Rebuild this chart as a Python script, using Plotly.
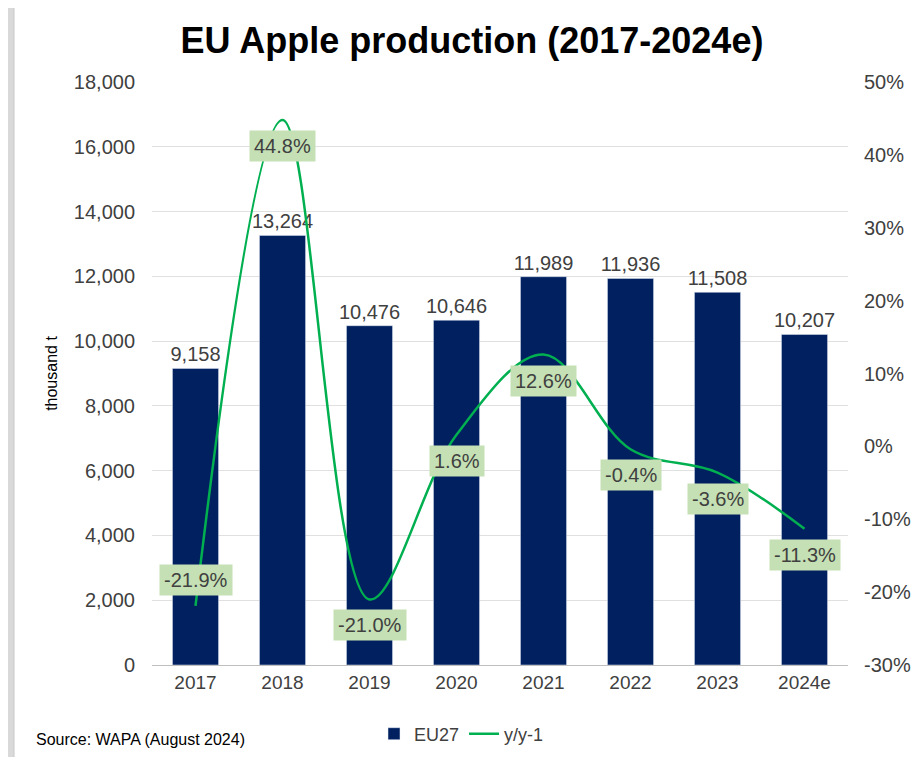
import plotly.graph_objects as go

# Datos
years = ["2017", "2018", "2019", "2020", "2021", "2022", "2023", "2024e"]
eu27 = [9158, 13264, 10476, 10646, 11989, 11936, 11508, 10207]
yoy = [-21.9, 44.8, -21.0, 1.6, 12.6, -0.4, -3.6, -11.3]
left_ticks = [0, 2000, 4000, 6000, 8000, 10000, 12000, 14000, 16000, 18000]
right_ticks = [-30, -20, -10, 0, 10, 20, 30, 40, 50]

NAVY = "#002060"
GREEN = "#00B050"
LABEL_BG = "#C5E0B4"
TXT = "#404040"
FONT = "Liberation Sans, Arial, sans-serif"
NARROW = "Liberation Sans Narrow, Arial Narrow, Liberation Sans, Arial, sans-serif"

# la página añade 8 px de margen
OFF = 8
W, H = 924 - OFF, 757 - OFF
L, R, T, B = 144, 76, 74, 92

# área de trazado en píxeles de pantalla
PL, PR, PT, PB = 152, 848, 82, 665


def px_x(p):
    return (p - PL) / (PR - PL)


def px_y(p):
    return (PB - p) / (PB - PT)


fig = go.Figure()

fig.add_trace(go.Bar(
    x=years, y=eu27, name="EU27",
    marker_color=NAVY,
    text=[f"{v:,}" for v in eu27], textposition="outside",
    textfont=dict(size=20, color=TXT, family=FONT),
    constraintext="none", cliponaxis=False,
))

fig.add_trace(go.Scatter(
    x=years, y=yoy, name="y/y-1", yaxis="y2",
    mode="lines", line=dict(color=GREEN, width=2.5, shape="spline", smoothing=1.0),
))

# etiquetas del porcentaje
for i, (yr, v) in enumerate(zip(years, yoy)):
    fig.add_annotation(
        x=i, y=v, xref="x", yref="y2", text=f"{v:.1f}%", showarrow=False,
        yshift=-26 if i > 0 else 26,
        bgcolor=LABEL_BG, borderpad=4,
        font=dict(size=20, color=TXT, family=FONT),
    )

# fondo gris de la captura
fig.add_shape(type="rect", xref="paper", yref="paper", layer="below",
              x0=px_x(14), x1=px_x(940), y0=px_y(770), y1=px_y(6),
              fillcolor="white", line=dict(color="#c8c8c8", width=1))

fig.add_annotation(
    text="Source: WAPA (August 2024)", xref="paper", yref="paper",
    x=px_x(34), y=px_y(739), xanchor="left", yanchor="middle", showarrow=False,
    font=dict(size=16, color="#000000", family=NARROW),
)

fig.update_layout(
    width=W, height=H,
    margin=dict(l=L, r=R, t=T, b=B, autoexpand=False),
    paper_bgcolor="#d9d9d9", plot_bgcolor="white",
    title=dict(text="<b>EU Apple production (2017-2024e)</b>",
               x=(472 - OFF) / W, xanchor="center", y=1 - (40 - OFF) / H, yanchor="middle",
               font=dict(size=36, color="#000000", family=NARROW)),
    bargap=0.47,
    xaxis=dict(
        type="category", categoryorder="array", categoryarray=years,
        range=[-0.5, len(years) - 0.5],
        showgrid=False, showline=True, linecolor="#bfbfbf",
        linewidth=1, ticks="", tickfont=dict(size=19, color=TXT, family=NARROW),
    ),
    yaxis=dict(
        range=[0, 18000], tickmode="array", tickvals=left_ticks,
        ticktext=[f"{t:,}" for t in left_ticks],
        showgrid=True, gridcolor="#e0e0e0", gridwidth=1, zeroline=False,
        tickfont=dict(size=20, color=TXT, family=FONT), ticks="",
        ticklabelstandoff=16,
        title=dict(text="thousand t", standoff=12,
                   font=dict(size=16, color="#000000", family=FONT)),
    ),
    yaxis2=dict(
        range=[-30, 50], tickmode="array", tickvals=right_ticks,
        ticktext=[f"{t}%" for t in right_ticks],
        overlaying="y", side="right", showgrid=False, zeroline=False,
        tickfont=dict(size=20, color=TXT, family=FONT), ticks="",
        ticklabelstandoff=15,
    ),
    showlegend=True,
    legend=dict(orientation="h", x=px_x(374), y=px_y(734), xanchor="left",
                yanchor="middle", font=dict(size=18, color=TXT, family=NARROW),
                bgcolor="rgba(0,0,0,0)"),
)

fig.write_html("out.html")
